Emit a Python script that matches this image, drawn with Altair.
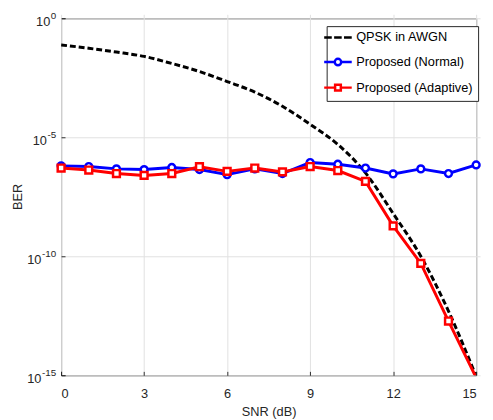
import altair as alt
import pandas as pd

snr = list(range(16))
ber_qpsk = [7.6e-2, 5.5e-2, 3.8e-2, 2.5e-2, 1.26e-2, 5.8e-3, 2.2e-3, 7.9e-4,
            2.0e-4, 3.5e-5, 5.0e-6, 3.2e-7, 6.3e-9, 1.0e-10, 5.0e-13, 9.0e-16]
ber_normal = [6.3e-7, 5.9e-7, 4.7e-7, 4.4e-7, 5.4e-7, 4.4e-7, 2.7e-7, 4.7e-7,
              3.0e-7, 8.7e-7, 7.4e-7, 5.1e-7, 2.9e-7, 4.7e-7, 3.0e-7, 6.9e-7]
ber_adaptive = [5.1e-7, 4.2e-7, 3.0e-7, 2.5e-7, 3.0e-7, 5.8e-7, 3.7e-7, 5.1e-7,
                3.5e-7, 5.9e-7, 4.0e-7, 1.4e-7, 1.9e-9, 5.0e-11, 1.9e-13, 8.0e-16]
series = ["QPSK in AWGN", "Proposed (Normal)", "Proposed (Adaptive)"]
colors = ["#000000", "#0000ff", "#ff0000"]
x_ticks = [0, 3, 6, 9, 12, 15]
y_ticks = [1e-15, 1e-10, 1e-5, 1]
y_tick_exponents = ["-15", "-10", "-5", "0"]

df = pd.DataFrame({
    "snr": snr * 3,
    "ber": ber_qpsk + ber_normal + ber_adaptive,
    "series": [series[0]] * 16 + [series[1]] * 16 + [series[2]] * 16,
})
legend_df = pd.DataFrame({"snr": [0, 0, 0], "ber": [1e-30] * 3, "series": series})
sup_df = pd.DataFrame({"ber": y_ticks, "exp": y_tick_exponents})

FONT = "Liberation Sans"
AX = "#262626"

x_enc = alt.X("snr:Q", title="SNR (dB)",
              scale=alt.Scale(domain=[0, 15], nice=False),
              axis=alt.Axis(values=x_ticks, format="d"))
y_enc = alt.Y("ber:Q", title="BER",
              scale=alt.Scale(type="log", domain=[1e-15, 1], nice=False),
              axis=alt.Axis(values=y_ticks, labelExpr="'10'",
                            titleX=-41, titleY=181, labelOffset=3,
                            labelPadding={"condition": [
                                {"test": "datum.value > 0.5", "value": 11.5},
                                {"test": "datum.value > 1e-7", "value": 15}],
                                "value": 20.5}))

base = alt.Chart(df).encode(x=x_enc, y=y_enc)

qpsk = base.transform_filter(alt.datum.series == series[0]).mark_line(
    color="black", strokeWidth=3, strokeDash=[6, 3], interpolate="monotone", clip=True)
normal_line = base.transform_filter(alt.datum.series == series[1]).mark_line(
    color="#0000ff", strokeWidth=3, clip=True)
normal_pts = base.transform_filter(alt.datum.series == series[1]).mark_point(
    shape="circle", filled=False, fill="white", fillOpacity=1, stroke="#0000ff",
    strokeWidth=2.5, size=48, opacity=1)
adapt_line = base.transform_filter(alt.datum.series == series[2]).mark_line(
    color="#ff0000", strokeWidth=3, clip=True)
adapt_pts = base.transform_filter((alt.datum.series == series[2]) & (alt.datum.ber >= 1e-15)).mark_point(
    shape="square", filled=False, fill="white", fillOpacity=1, stroke="#ff0000",
    strokeWidth=2.5, size=48, opacity=1)

sup_text = alt.Chart(sup_df).mark_text(
    align="right", baseline="middle", font=FONT, fontSize=10, color=AX, dy=-2, clip=False
).encode(x=alt.value(-5), y=alt.Y("ber:Q"), text="exp:N")

shape_paths = [
    "M-2.8,0L-1.26,0M-0.78,0L0.76,0M1.23,0L2.8,0",
    "M-2.8,0L-0.66,0M0.66,0L2.8,0M-0.66,0A0.66,0.66,0,1,1,0.66,0A0.66,0.66,0,1,1,-0.66,0Z",
    "M-2.8,0L-0.58,0M0.58,0L2.8,0M-0.58,-0.58L0.58,-0.58L0.58,0.58L-0.58,0.58Z",
]

legend_layer = alt.Chart(legend_df).mark_point(
    filled=False, strokeWidth=2.5, size=100, clip=True, opacity=1).encode(
    x=alt.X("snr:Q"), y=alt.Y("ber:Q"),
    color=alt.Color("series:N", scale=alt.Scale(domain=series, range=colors),
                    legend=alt.Legend(title=None, orient="none", legendX=270, legendY=8,
                                      symbolSize=100, symbolStrokeWidth=2.5,
                                      symbolFillColor="white", symbolOpacity=1,
                                      labelFont=FONT, labelFontSize=13, labelColor="#000000",
                                      labelOffset=12, padding=5, rowPadding=9,
                                      strokeColor=AX, fillColor="white")),
    shape=alt.Shape("series:N", scale=alt.Scale(domain=series, range=shape_paths)),
)

chart = alt.layer(qpsk, normal_line, adapt_line, normal_pts, adapt_pts, sup_text, legend_layer).properties(
    width=422, height=363,
    autosize=alt.AutoSizeParams(type="none"),
    padding={"left": 54, "top": 7, "right": 9, "bottom": 41},
).configure_view(
    stroke=AX, strokeWidth=1
).configure_axis(
    labelFont=FONT, titleFont=FONT, labelFontSize=13, titleFontSize=13,
    labelColor=AX, titleColor=AX, titleFontWeight="normal",
    domain=False, tickColor=AX, tickSize=4, offset=-4, tickWidth=1,
    gridColor="#e0e0e0", gridWidth=1,
).configure_axisX(
    labelPadding=13, titlePadding=5,
)

chart.save("out.html", embed_options={"renderer": "svg", "actions": False})
